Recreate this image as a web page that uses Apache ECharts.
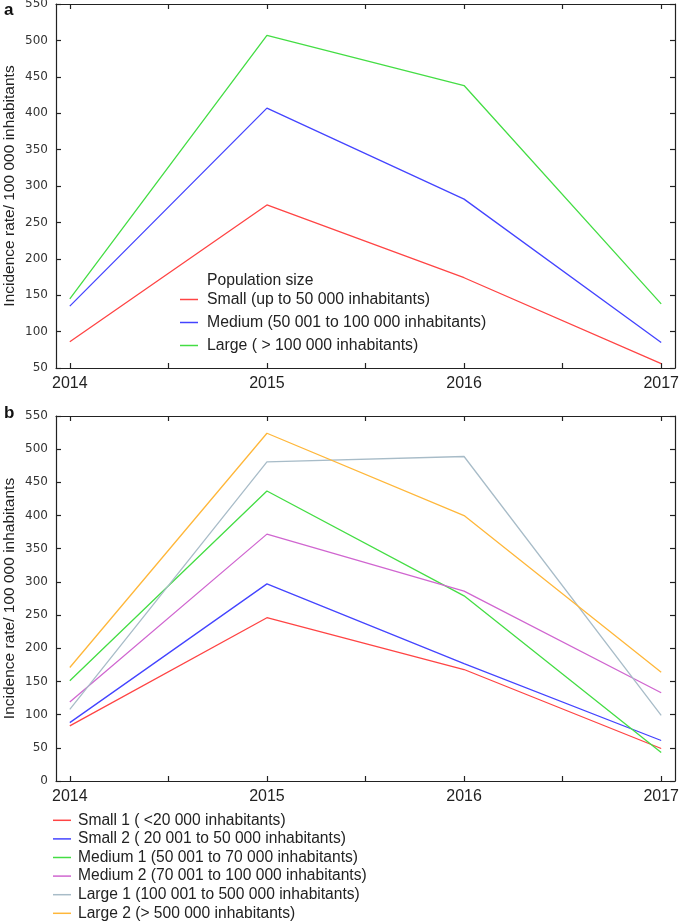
<!DOCTYPE html>
<html><head><meta charset="utf-8">
<script src="https://cdn.jsdelivr.net/npm/echarts@6/dist/echarts.min.js"></script>
<style>html,body{margin:0;padding:0;background:#fff}#c{width:685px;height:921px}</style>
</head><body><div id="c"></div>
<script>
const years = [2014, 2015, 2016, 2017];
const xTickValues = [2014, 2014.5, 2015, 2015.5, 2016, 2016.5, 2017];

// Panel a
const aNames = ['Small (up to 50 000 inhabitants)', 'Medium (50 001 to 100 000 inhabitants)', 'Large ( > 100 000 inhabitants)'];
const aSmall = [86, 274, 174, 56];
const aMedium = [135, 407, 282, 85];
const aLarge = [145, 507, 438, 138];
const aColors = ['#ff4444', '#4444ff', '#44dd44'];

// Panel b
const bNames = ['Small 1 ( <20 000 inhabitants)', 'Small 2 ( 20 001 to 50 000 inhabitants)', 'Medium 1 (50 001 to 70 000 inhabitants)', 'Medium 2 (70 001 to 100 000 inhabitants)', 'Large 1 (100 001 to 500 000 inhabitants)', 'Large 2 (> 500 000 inhabitants)'];
const bSmall1 = [83, 246, 168, 49];
const bSmall2 = [88, 297, 177, 61];
const bMedium1 = [151, 437, 279, 43];
const bMedium2 = [119, 372, 286, 133];
const bLarge1 = [108, 481, 489, 99];
const bLarge2 = [171, 524, 400, 164];
const bColors = ['#ff4444', '#4444ff', '#44dd44', '#d066d0', '#a8bcc8', '#ffb73a'];

const yTitle = 'Incidence rate/ 100 000 inhabitants';

const axisLineStyle = {lineStyle: {color: '#222', width: 1.2}};
const tickStyle = {inside: true, length: 5, lineStyle: {color: '#222', width: 1.2}};

function xAx(grid, pos, labels) {
  return {
    type: 'value', gridIndex: grid, position: pos, min: 2013.93, max: 2017.07,
    axisLine: Object.assign({show: true, onZero: false}, axisLineStyle),
    axisTick: Object.assign({show: true, customValues: xTickValues}, tickStyle),
    axisLabel: labels ? {show: true, customValues: years, formatter: v => String(Math.round(v)), fontFamily: 'Liberation Sans, Arial', fontSize: 16, color: '#222', margin: 8} : {show: false},
    splitLine: {show: false}
  };
}
function yAx(grid, pos, min, labels) {
  return {
    type: 'value', gridIndex: grid, position: pos, min: min, max: 550, interval: 50,
    axisLine: Object.assign({show: true, onZero: false}, axisLineStyle),
    axisTick: Object.assign({show: true}, tickStyle),
    axisLabel: labels ? {show: true, fontFamily: 'DejaVu Sans, Verdana', fontSize: 12, color: '#333', margin: 8} : {show: false},
    splitLine: {show: false},
    name: labels ? yTitle : '',
    nameLocation: 'middle', nameGap: 38, nameMoveOverlap: false,
    nameTextStyle: {fontFamily: 'Liberation Sans, Arial', fontSize: 15.5, color: '#222'}
  };
}
function mk(d) { return years.map((y, i) => [y, d[i]]); }

const aData = [aSmall, aMedium, aLarge];
const bData = [bSmall1, bSmall2, bMedium1, bMedium2, bLarge1, bLarge2];

const series = [];
aData.forEach((d, i) => series.push({
  name: aNames[i], type: 'line', xAxisIndex: 0, yAxisIndex: 0, data: mk(d),
  symbol: 'none', lineStyle: {width: 1.3, color: aColors[i]}, itemStyle: {color: aColors[i]}
}));
bData.forEach((d, i) => series.push({
  name: bNames[i], type: 'line', xAxisIndex: 2, yAxisIndex: 2, data: mk(d),
  symbol: 'none', lineStyle: {width: 1.3, color: bColors[i]}, itemStyle: {color: bColors[i]}
}));

const chart = echarts.init(document.getElementById('c'), null, {renderer: 'canvas'});
chart.setOption({
  animation: false,
  backgroundColor: '#fff',
  grid: [
    {left: 56, right: 10, top: 4, height: 364, containLabel: false, outerBoundsMode: 'none'},
    {left: 56, right: 10, top: 416, height: 365, containLabel: false, outerBoundsMode: 'none'}
  ],
  xAxis: [xAx(0, 'bottom', true), xAx(0, 'top', false), xAx(1, 'bottom', true), xAx(1, 'top', false)],
  yAxis: [yAx(0, 'left', 50, true), yAx(0, 'right', 50, false), yAx(1, 'left', 0, true), yAx(1, 'right', 0, false)],
  legend: [
    {data: aNames, orient: 'vertical', left: 180, top: 288, padding: 0, itemGap: 0, itemWidth: 18, itemHeight: 1.5, icon: 'rect',
     textStyle: {fontFamily: 'Liberation Sans, Arial', fontSize: 15.8, color: '#222', lineHeight: 23, padding: [0, 0, 0, 4]}},
    {data: bNames, orient: 'vertical', left: 53, top: 811, padding: 0, height: 125, itemGap: 0, itemWidth: 18, itemHeight: 1.5, icon: 'rect',
     textStyle: {fontFamily: 'Liberation Sans, Arial', fontSize: 15.6, color: '#222', lineHeight: 18.6, padding: [0, 0, 0, 2]}}
  ],
  graphic: [
    {type: 'text', left: 4, top: 2, style: {text: 'a', font: 'bold 17px Liberation Sans, Arial', fill: '#111'}},
    {type: 'text', left: 4, top: 405, style: {text: 'b', font: 'bold 17px Liberation Sans, Arial', fill: '#111'}},
    {type: 'text', left: 207, top: 273, style: {text: 'Population size', font: '15.7px Liberation Sans, Arial', fill: '#222'}}
  ],
  series: series
});
</script></body></html>
